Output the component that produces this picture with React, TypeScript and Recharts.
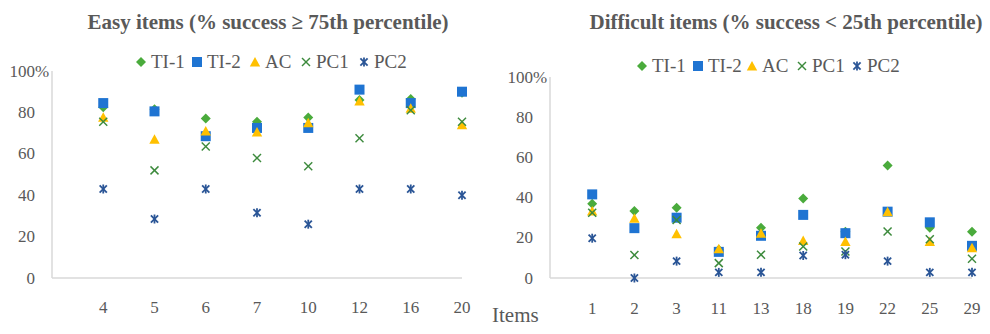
import React from 'react';
import { ScatterChart, Scatter, XAxis, YAxis } from 'recharts';

const easyItems = ['4', '5', '6', '7', '10', '12', '16', '20'];
const easyTI1 = [82.5, 81.5, 77, 75.5, 77.5, 86, 86.5, 89.5];
const easyTI2 = [84.5, 80.5, 68.5, 72.5, 72.5, 91, 84.5, 90];
const easyAC = [77.7, 67, 71, 70.5, 75, 85.5, 82, 74];
const easyPC1 = [75.5, 52, 63.5, 58, 54, 67.5, 81, 75.5];
const easyPC2 = [43, 28.5, 43, 31.5, 26, 43, 43, 40];

const hardItems = ['1', '2', '3', '11', '13', '18', '19', '22', '25', '29'];
const hardTI1 = [37, 33.3, 35, 14, 25, 39.5, 23, 56, 25, 23];
const hardTI2 = [41.6, 24.8, 30, 13, 21, 31.4, 22.3, 33, 27.7, 16];
const hardAC = [33.3, 29.7, 22, 14.5, 22.3, 18.6, 18.2, 33, 18.2, 15];
const hardPC1 = [32.5, 11.4, 28.9, 7.4, 11.6, 15.7, 13.2, 23.1, 19.3, 9.6];
const hardPC2 = [19.8, 0, 8.4, 2.8, 2.8, 11.2, 11.6, 8.4, 2.8, 2.8];

const seriesNames = ['TI-1', 'TI-2', 'AC', 'PC1', 'PC2'];
const yTicks = [0, 20, 40, 60, 80, 100];

const C_TI1 = '#4aab3c';
const C_TI2 = '#1f74d2';
const C_AC = '#ffc000';
const C_PC1 = '#3c8a3c';
const C_PC2 = '#2a5596';
const TEXT = '#595959';
const AXIS = '#d9d9d9';
const FONT = "'Liberation Serif', serif";

const Diamond = (p: any) => {
  const { cx, cy } = p;
  return <path d={`M${cx},${cy - 5} L${cx + 5},${cy} L${cx},${cy + 5} L${cx - 5},${cy} Z`} fill={C_TI1} />;
};
const Square = (p: any) => {
  const { cx, cy } = p;
  return <rect x={cx - 5} y={cy - 5} width={10} height={10} fill={C_TI2} />;
};
const Triangle = (p: any) => {
  const { cx, cy } = p;
  return <path d={`M${cx},${cy - 5} L${cx + 5.2},${cy + 4.5} L${cx - 5.2},${cy + 4.5} Z`} fill={C_AC} />;
};
const XMark = (p: any) => {
  const { cx, cy } = p;
  const r = 4;
  return (
    <g stroke={C_PC1} strokeWidth={1.5}>
      <line x1={cx - r} y1={cy - r} x2={cx + r} y2={cy + r} />
      <line x1={cx - r} y1={cy + r} x2={cx + r} y2={cy - r} />
    </g>
  );
};
const Aster = (p: any) => {
  const { cx, cy } = p;
  const r = 3.6;
  return (
    <g stroke={C_PC2} strokeWidth={1.8}>
      <line x1={cx - r} y1={cy - r} x2={cx + r} y2={cy + r} />
      <line x1={cx - r} y1={cy + r} x2={cx + r} y2={cy - r} />
      <line x1={cx} y1={cy - 4.5} x2={cx} y2={cy + 4.5} />
    </g>
  );
};

const shapes = [Diamond, Square, Triangle, XMark, Aster];

const LegendIcon = ({ i }: { i: number }) => {
  const S = shapes[i];
  return (
    <svg width={12} height={12} style={{ display: 'block' }}>
      <S cx={6} cy={6} />
    </svg>
  );
};

const YTick = (props: any) => {
  const { x, y, payload } = props;
  const ax = x + 8 - 17;
  return (
    <g>
      <text x={ax} y={y} textAnchor="end" dominantBaseline="central" fill={TEXT} fontSize={17} style={{ fontFamily: FONT }}>
        {payload.value}
      </text>
      {payload.value === 100 && (
        <text x={ax} y={y} textAnchor="start" dominantBaseline="central" fill={TEXT} fontSize={17} style={{ fontFamily: FONT }}>
          %
        </text>
      )}
    </g>
  );
};

const XTick = (props: any) => {
  const { x, y, payload, items } = props;
  return (
    <text x={x} y={y + 12} textAnchor="middle" fill={TEXT} fontSize={17} style={{ fontFamily: FONT }}>
      {items[payload.value - 1]}
    </text>
  );
};

const mk = (vals: number[]) => vals.map((v, i) => ({ x: i + 1, y: v }));

function Panel(props: {
  items: string[];
  series: number[][];
  margin: { top: number; right: number; left: number; bottom: number };
  yWidth: number;
  tickMargin: number;
}) {
  const { items, series, margin, yWidth, tickMargin } = props;
  const n = items.length;
  return (
    <ScatterChart width={495} height={334} margin={margin} style={{ fontFamily: FONT }}>
      <XAxis
        type="number"
        dataKey="x"
        domain={[0, n]}
        ticks={items.map((_, i) => i + 1)}
        axisLine={{ stroke: AXIS, strokeWidth: 1.5 }}
        tickLine={false}
        tickMargin={tickMargin}
        height={30}
        tick={<XTick items={items} />}
        interval={0}
      />
      <YAxis
        type="number"
        dataKey="y"
        domain={[0, 100]}
        ticks={yTicks}
        width={yWidth}
        axisLine={{ stroke: AXIS, strokeWidth: 1.5 }}
        tickLine={false}
        tick={<YTick />}
        interval={0}
      />
      {series.map((s, i) => {
        const S = shapes[i];
        return (
          <Scatter
            key={seriesNames[i]}
            name={seriesNames[i]}
            data={mk(s)}
            isAnimationActive={false}
            shape={(p: any) => <S {...p} />}
          />
        );
      })}
    </ScatterChart>
  );
}

const legendEasy = { y: 62, iconX: [141, 197, 255, 306, 364] };
const legendHard = { y: 66, iconX: [642, 698, 752, 802, 857] };

function Legend2({ cfg }: { cfg: { y: number; iconX: number[] } }) {
  return (
    <>
      {seriesNames.map((nm, i) => (
        <div
          key={nm}
          style={{
            position: 'absolute',
            left: cfg.iconX[i] - 6,
            top: cfg.y - 11,
            height: 22,
            display: 'flex',
            alignItems: 'center',
            gap: 4,
            fontFamily: FONT,
            fontSize: 19,
            color: TEXT,
            whiteSpace: 'nowrap',
          }}
        >
          <LegendIcon i={i} />
          <span>{nm}</span>
        </div>
      ))}
    </>
  );
}

const titleStyle: React.CSSProperties = {
  position: 'absolute',
  top: 22,
  transform: 'translate(-50%, -50%)',
  fontFamily: FONT,
  fontWeight: 'bold',
  fontSize: 21,
  color: TEXT,
  whiteSpace: 'nowrap',
};

export default function App() {
  return (
    <div
      style={{
        position: 'absolute',
        left: 0,
        top: 0,
        width: 990,
        height: 334,
        background: '#fff',
        overflow: 'hidden',
        fontFamily: FONT,
      }}
    >
      <div style={{ position: 'absolute', left: 0, top: 0 }}>
        <Panel
          items={easyItems}
          series={[easyTI1, easyTI2, easyAC, easyPC1, easyPC2]}
          margin={{ top: 71, right: 33, left: 0, bottom: 26 }}
          yWidth={52}
          tickMargin={17}
        />
      </div>
      <div style={{ position: 'absolute', left: 495, top: 0 }}>
        <Panel
          items={hardItems}
          series={[hardTI1, hardTI2, hardAC, hardPC1, hardPC2]}
          margin={{ top: 77, right: 18, left: 0, bottom: 26 }}
          yWidth={55}
          tickMargin={18}
        />
      </div>
      <div style={{ ...titleStyle, left: 268 }}>Easy items (% success ≥ 75th percentile)</div>
      <div style={{ ...titleStyle, left: 786 }}>Difficult items (% success &lt; 25th percentile)</div>
      <Legend2 cfg={legendEasy} />
      <Legend2 cfg={legendHard} />
      <div
        style={{
          position: 'absolute',
          left: 492,
          top: 303,
          fontFamily: FONT,
          fontSize: 21,
          color: TEXT,
          lineHeight: '24px',
          whiteSpace: 'nowrap',
        }}
      >
        Items
      </div>
    </div>
  );
}
